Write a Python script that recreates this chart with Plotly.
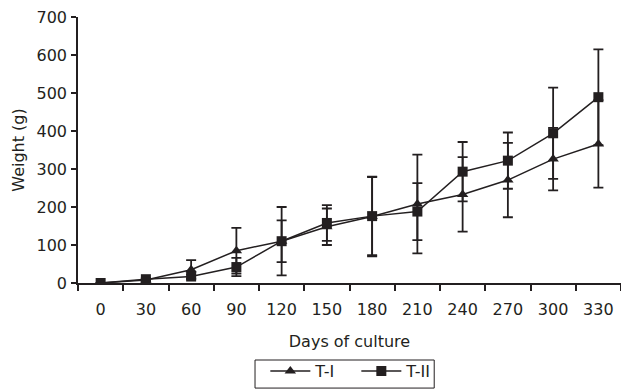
import plotly.graph_objects as go

days = ["0", "30", "60", "90", "120", "150", "180", "210", "240", "270", "300", "330"]
t1_mean = [0, 8, 35, 85, 110, 148, 175, 208, 233, 271, 326, 366]
t1_err = [0, 3, 25, 60, 55, 48, 105, 130, 98, 98, 82, 115]
t2_mean = [0, 10, 17, 42, 110, 158, 176, 188, 293, 322, 394, 489]
t2_err = [0, 3, 5, 24, 90, 47, 103, 75, 78, 74, 120, 126]

ink = "#231f20"
font_family = "DejaVu Sans, Arial, sans-serif"

fig = go.Figure()
fig.add_trace(go.Scatter(
    x=days, y=t1_mean, name="T-I", mode="lines+markers",
    line=dict(color=ink, width=1.5),
    marker=dict(symbol="triangle-up", size=10, color=ink),
    error_y=dict(type="data", array=t1_err, visible=True, color=ink, thickness=1.8, width=5),
))
fig.add_trace(go.Scatter(
    x=days, y=t2_mean, name="T-II", mode="lines+markers",
    line=dict(color=ink, width=1.5),
    marker=dict(symbol="square", size=10, color=ink),
    error_y=dict(type="data", array=t2_err, visible=True, color=ink, thickness=1.8, width=5),
))

# legend frame drawn as a paper-referenced rectangle
fig.add_shape(type="rect", xref="paper", yref="paper",
              x0=0.326, x1=0.656, y0=-0.2895, y1=-0.395,
              line=dict(color=ink, width=1), fillcolor="rgba(0,0,0,0)")

fig.update_layout(
    width=621, height=390,
    margin=dict(l=78, r=0, t=17, b=107),
    paper_bgcolor="white", plot_bgcolor="white",
    font=dict(family=font_family, size=16, color=ink),
    showlegend=True,
    legend=dict(
        orientation="h", x=0.345, xanchor="left", y=-0.395, yanchor="bottom",
        borderwidth=0, bgcolor="rgba(0,0,0,0)", font=dict(size=16),
        itemwidth=40, entrywidth=36, entrywidthmode="pixels", tracegroupgap=0,
    ),
    xaxis=dict(
        type="category", range=[-0.5, len(days) - 0.5],
        showline=True, linecolor=ink, linewidth=1.5,
        ticks="outside", tickson="boundaries", ticklen=6, tickwidth=1.5, tickcolor=ink,
        showgrid=False, zeroline=False, automargin=False,
        ticklabelstandoff=11,
        tickfont=dict(size=16),
        title=dict(text="Days of culture", standoff=18, font=dict(size=16)),
    ),
    yaxis=dict(
        range=[0, 700], dtick=100, showline=True, linecolor=ink, linewidth=1.5,
        ticks="outside", ticklen=5, tickwidth=1.5, tickcolor=ink,
        showgrid=False, zeroline=False, automargin=False,
        ticklabelstandoff=1,
        tickfont=dict(size=16),
        title=dict(text="Weight (g)", standoff=8, font=dict(size=16)),
    ),
)

fig.write_html("out.html", config={"displayModeBar": False},
               post_script="document.body.style.margin='0';")
